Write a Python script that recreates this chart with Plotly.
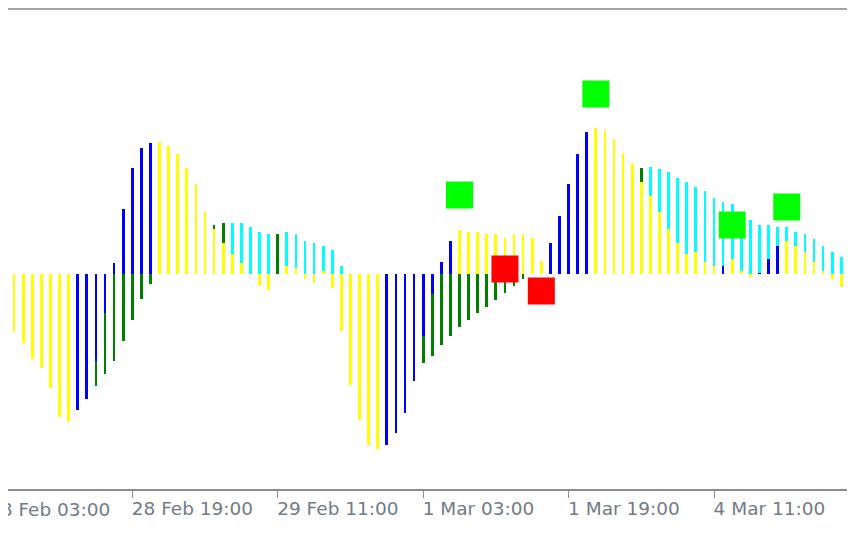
import plotly.graph_objects as go

# MT4-style dual histogram (H1 bars)
main_hist = [
    -49, -58, -69, -85, -94, -114, -143, -148, -136, -125,
    -87, -39, 11, 65, 106, 126, 131, 132, 128, 120,
    106, 90, 62, 45, 31, 20, 11, 0, -12, -16,
    0, 8, 6, -5, -9, 3, -14, -57, -111, -146,
    -171, -175, -171, -159, -139, -107, -62, -20, 12, 33,
    44, 42, 42, 40, 40, 36, 40, 40, 36, 13,
    31, 58, 90, 120, 142, 146, 144, 135, 121, 110,
    92, 78, 62, 45, 31, 20, 22, 12, 8, 8,
    15, 3, -3, 1, 15, 28, 33, 28, 22, 12,
    3, -5, -13, -23,
]
# bars of the main histogram drawn as "rising"
main_rising = list(range(8, 17)) + list(range(42, 50)) + list(range(60, 65)) + [79, 83, 84, 85]

signal_hist = (
    [None] * 10
    + [-112, -100, -87, -67, -46, -25, -10]
    + [None] * 6
    + [49, 51, 51, 51, 47, 42, 40, 40, 42, 40, 33, 31, 28, 24, 8]
    + [None] * 8
    + [-89, -82, -71, -62, -53, -46, -39, -33, -26, -19, -12, -5]
    + [None] * 12
    + [106, 107, 105, 102, 96, 92, 87, 83, 76, 72, 70, 62, 54, 49, 49, 47,
       47, 42, 40, 35, 28, 22, 17, 10]
)
signal_rising = list(range(10, 17)) + [23, 24, 30] + list(range(46, 58)) + [70]

buy_idx = [50, 65, 80, 86]
buy_val = [79, 180, 49, 67]
sell_idx = [55, 59]
sell_val = [5, -17]

tick_idx = [-2, 14, 30, 46, 62, 78]
tick_text = ["28 Feb 03:00", "28 Feb 19:00", "29 Feb 11:00",
             "1 Mar 03:00", "1 Mar 19:00", "4 Mar 11:00"]

bars = list(range(len(main_hist)))


def pick(values, idx, keep):
    return [v if ((i in idx) == keep) else None for i, v in enumerate(values)]


fig = go.Figure()

for vals, color in [
    (pick(signal_hist, signal_rising, False), "#00ffff"),
    (pick(signal_hist, signal_rising, True), "#008000"),
    (pick(main_hist, main_rising, False), "#ffff00"),
    (pick(main_hist, main_rising, True), "#0000ff"),
]:
    fig.add_trace(go.Bar(x=bars, y=vals, width=0.3,
                         marker=dict(color=color, line_width=0, opacity=1)))

fig.add_trace(go.Scatter(x=buy_idx, y=buy_val, mode="markers",
                         marker=dict(symbol="square", size=27, color="#00ff00", line_width=0)))
fig.add_trace(go.Scatter(x=sell_idx, y=sell_val, mode="markers",
                         marker=dict(symbol="square", size=27, color="#ff0000", line_width=0)))

# the page puts the figure 8px in from the top-left, ranges allow for that
x_range = [0.33, 94.39]
tick_font = dict(family="DejaVu Sans", size=18.5, color="#717b86")

fig.update_layout(
    width=855, height=534,
    margin=dict(l=0, r=0, t=1, b=53, autoexpand=False),
    paper_bgcolor="white", plot_bgcolor="white",
    barmode="overlay", bargap=0, showlegend=False,
    xaxis=dict(range=x_range, showgrid=False, zeroline=False,
               showline=True, linecolor="#8a8a8a", linewidth=2,
               ticks="outside", ticklen=7, tickcolor="#8a8a8a", tickwidth=1,
               tickvals=tick_idx[1:], ticktext=tick_text[1:],
               ticklabelposition="outside right", ticklabelshift=-2,
               ticklabelstandoff=2, tickfont=tick_font),
    yaxis=dict(range=[-215, 265], visible=False),
    shapes=[dict(type="line", xref="paper", yref="paper", x0=0, x1=1, y0=1, y1=1,
                 line=dict(color="#a4a4a4", width=2))],
)

# first date label sits left of the visible area, so place it from the axis range
fig.add_annotation(
    x=(tick_idx[0] - x_range[0]) / (x_range[1] - x_range[0]),
    xref="paper", y=0, yref="paper", xanchor="left", yanchor="top",
    yshift=-8, text=tick_text[0], showarrow=False, font=tick_font,
)

fig.write_html("out.html")
